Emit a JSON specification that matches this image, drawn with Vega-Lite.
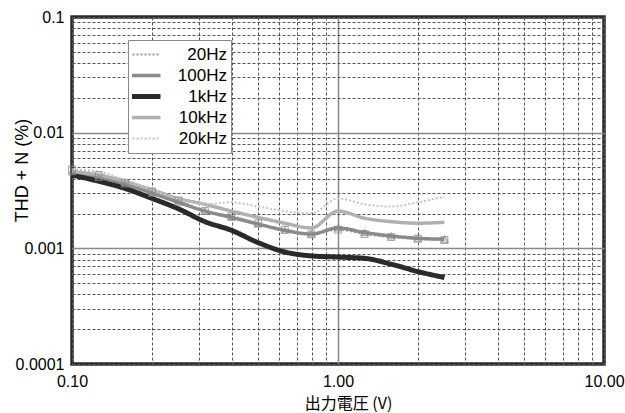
{
  "$schema": "https://vega.github.io/schema/vega-lite/v6.json",
  "width": 532,
  "height": 347,
  "autosize": {"type": "none"},
  "padding": {"left": 72, "top": 17, "right": 21, "bottom": 49},
  "background": "white",
  "config": {
    "view": {"stroke": "#2a2a2a", "strokeWidth": 3.5},
    "font": "Liberation Sans"
  },
  "data": {
    "values": [
      {"series": "20Hz", "v": 0.1, "thd": 0.0048},
      {"series": "20Hz", "v": 0.126, "thd": 0.0043},
      {"series": "20Hz", "v": 0.158, "thd": 0.0037},
      {"series": "20Hz", "v": 0.2, "thd": 0.0031},
      {"series": "20Hz", "v": 0.251, "thd": 0.0026},
      {"series": "20Hz", "v": 0.316, "thd": 0.0021},
      {"series": "20Hz", "v": 0.398, "thd": 0.0019},
      {"series": "20Hz", "v": 0.501, "thd": 0.00165},
      {"series": "20Hz", "v": 0.631, "thd": 0.00145},
      {"series": "20Hz", "v": 0.794, "thd": 0.00132},
      {"series": "20Hz", "v": 1.0, "thd": 0.00145},
      {"series": "20Hz", "v": 1.259, "thd": 0.00133},
      {"series": "20Hz", "v": 1.585, "thd": 0.00125},
      {"series": "20Hz", "v": 1.995, "thd": 0.00121},
      {"series": "20Hz", "v": 2.512, "thd": 0.00118},
      {"series": "100Hz", "v": 0.1, "thd": 0.0046},
      {"series": "100Hz", "v": 0.126, "thd": 0.0041},
      {"series": "100Hz", "v": 0.158, "thd": 0.0036},
      {"series": "100Hz", "v": 0.2, "thd": 0.003},
      {"series": "100Hz", "v": 0.251, "thd": 0.0025},
      {"series": "100Hz", "v": 0.316, "thd": 0.0021},
      {"series": "100Hz", "v": 0.398, "thd": 0.00185},
      {"series": "100Hz", "v": 0.501, "thd": 0.00162},
      {"series": "100Hz", "v": 0.631, "thd": 0.00143},
      {"series": "100Hz", "v": 0.794, "thd": 0.00133},
      {"series": "100Hz", "v": 1.0, "thd": 0.0015},
      {"series": "100Hz", "v": 1.259, "thd": 0.00137},
      {"series": "100Hz", "v": 1.585, "thd": 0.00128},
      {"series": "100Hz", "v": 1.995, "thd": 0.00122},
      {"series": "100Hz", "v": 2.512, "thd": 0.0012},
      {"series": "1kHz", "v": 0.1, "thd": 0.0043},
      {"series": "1kHz", "v": 0.126, "thd": 0.0038},
      {"series": "1kHz", "v": 0.158, "thd": 0.0033},
      {"series": "1kHz", "v": 0.2, "thd": 0.0027},
      {"series": "1kHz", "v": 0.251, "thd": 0.0022},
      {"series": "1kHz", "v": 0.316, "thd": 0.0017},
      {"series": "1kHz", "v": 0.398, "thd": 0.00143},
      {"series": "1kHz", "v": 0.501, "thd": 0.00112},
      {"series": "1kHz", "v": 0.631, "thd": 0.00093},
      {"series": "1kHz", "v": 0.794, "thd": 0.00086},
      {"series": "1kHz", "v": 1.0, "thd": 0.00084},
      {"series": "1kHz", "v": 1.259, "thd": 0.00082},
      {"series": "1kHz", "v": 1.585, "thd": 0.00073},
      {"series": "1kHz", "v": 1.995, "thd": 0.00063},
      {"series": "1kHz", "v": 2.512, "thd": 0.00056},
      {"series": "10kHz", "v": 0.1, "thd": 0.0046},
      {"series": "10kHz", "v": 0.126, "thd": 0.0043},
      {"series": "10kHz", "v": 0.158, "thd": 0.0038},
      {"series": "10kHz", "v": 0.2, "thd": 0.0032},
      {"series": "10kHz", "v": 0.251, "thd": 0.0027},
      {"series": "10kHz", "v": 0.316, "thd": 0.0024},
      {"series": "10kHz", "v": 0.398, "thd": 0.0021},
      {"series": "10kHz", "v": 0.501, "thd": 0.00185},
      {"series": "10kHz", "v": 0.631, "thd": 0.00165},
      {"series": "10kHz", "v": 0.794, "thd": 0.0015},
      {"series": "10kHz", "v": 1.0, "thd": 0.0021},
      {"series": "10kHz", "v": 1.259, "thd": 0.00182},
      {"series": "10kHz", "v": 1.585, "thd": 0.0017},
      {"series": "10kHz", "v": 1.995, "thd": 0.00165},
      {"series": "10kHz", "v": 2.512, "thd": 0.00168},
      {"series": "20kHz", "v": 0.1, "thd": 0.0048},
      {"series": "20kHz", "v": 0.126, "thd": 0.0046},
      {"series": "20kHz", "v": 0.158, "thd": 0.0039},
      {"series": "20kHz", "v": 0.2, "thd": 0.0032},
      {"series": "20kHz", "v": 0.251, "thd": 0.0027},
      {"series": "20kHz", "v": 0.316, "thd": 0.0024},
      {"series": "20kHz", "v": 0.398, "thd": 0.0025},
      {"series": "20kHz", "v": 0.501, "thd": 0.0023},
      {"series": "20kHz", "v": 0.631, "thd": 0.0021},
      {"series": "20kHz", "v": 0.794, "thd": 0.002},
      {"series": "20kHz", "v": 1.0, "thd": 0.0027},
      {"series": "20kHz", "v": 1.259, "thd": 0.0024},
      {"series": "20kHz", "v": 1.585, "thd": 0.0023},
      {"series": "20kHz", "v": 1.995, "thd": 0.0025},
      {"series": "20kHz", "v": 2.512, "thd": 0.0028}
    ]
  },
  "encoding": {
    "x": {
      "field": "v",
      "type": "quantitative",
      "scale": {"type": "log", "domain": [0.1, 10], "nice": false},
      "axis": {
        "values": [0.1, 0.2, 0.3, 0.4, 0.5, 0.6, 0.7, 0.8, 0.9, 1, 2, 3, 4, 5, 6, 7, 8, 9, 10],
        "labelExpr": "datum.value == 0.1 || datum.value == 1 || datum.value == 10 ? format(datum.value, '.2f') : ''",
        "labelFontSize": 16,
        "labelColor": "#000000",
        "labelFlush": false,
        "labelOverlap": false,
        "labelPadding": 9,
        "ticks": false,
        "domain": false,
        "grid": true,
        "gridColor": {"condition": {"test": "datum.value == 1", "value": "#888888"}, "value": "#555555"},
        "gridDash": {"condition": {"test": "datum.value == 1", "value": []}, "value": [3, 2]},
        "gridWidth": {"condition": {"test": "datum.value == 1", "value": 1.5}, "value": 1},
        "title": "出力電圧 (V)",
        "titleFont": "Noto Sans CJK JP",
        "titleFontSize": 16,
        "titleFontWeight": "normal",
        "titleColor": "#000000",
        "titleX": 276,
        "titleY": 39,
        "titleBaseline": "middle"
      }
    },
    "y": {
      "field": "thd",
      "type": "quantitative",
      "scale": {"type": "log", "domain": [0.0001, 0.1], "nice": false},
      "axis": {
        "values": [0.0001, 0.0002, 0.0003, 0.0004, 0.0005, 0.0006, 0.0007, 0.0008, 0.0009, 0.001, 0.002, 0.003, 0.004, 0.005, 0.006, 0.007, 0.008, 0.009, 0.01, 0.02, 0.03, 0.04, 0.05, 0.06, 0.07, 0.08, 0.09, 0.1],
        "labelExpr": "indexof([0.1, 0.01, 0.001, 0.0001], datum.value) >= 0 ? format(datum.value, '~g') : ''",
        "labelFontSize": 16,
        "labelColor": "#000000",
        "labelFlush": false,
        "labelOverlap": false,
        "labelPadding": 8,
        "ticks": false,
        "domain": false,
        "grid": true,
        "gridColor": {"condition": {"test": "datum.value == 0.001 || datum.value == 0.01", "value": "#888888"}, "value": "#555555"},
        "gridDash": {"condition": {"test": "datum.value == 0.001 || datum.value == 0.01", "value": []}, "value": [3, 2]},
        "gridWidth": {"condition": {"test": "datum.value == 0.001 || datum.value == 0.01", "value": 1.5}, "value": 1},
        "title": "THD + N (%)",
        "titleFontSize": 18,
        "titleFontWeight": "normal",
        "titleColor": "#000000",
        "titleAngle": 270,
        "titleX": -50,
        "titleY": 153,
        "titleAlign": "center",
        "titleBaseline": "middle"
      }
    }
  },
  "layer": [
    {
      "mark": {"type": "line", "interpolate": "monotone"},
      "encoding": {
        "color": {
          "field": "series",
          "type": "nominal",
          "scale": {"domain": ["20Hz", "100Hz", "1kHz", "10kHz", "20kHz"], "range": ["#9a9a9a", "#8a8a8a", "#2a2a2a", "#b0b0b0", "#c4c4c4"]},
          "legend": {
            "title": null,
            "orient": "none",
            "legendX": 56,
            "legendY": 23,
            "strokeColor": "#888888",
            "fillColor": "#ffffff",
            "padding": 4,
            "symbolType": "stroke",
            "symbolSize": 1600,
            "clipHeight": 21,
            "rowPadding": 0,
            "labelFontSize": 17,
            "labelColor": "#000000",
            "labelAlign": "right",
            "labelOffset": 78,
            "encode": {
              "symbols": {
                "update": {
                  "strokeWidth": {"signal": "datum.value == '1kHz' ? 5 : (datum.value == '100Hz' || datum.value == '10kHz') ? 3.5 : 2"}
                }
              }
            }
          }
        },
        "strokeWidth": {
          "condition": [
            {"test": "datum.series == '1kHz'", "value": 5},
            {"test": "datum.series == '100Hz' || datum.series == '10kHz'", "value": 3.5}
          ],
          "value": 2
        },
        "strokeDash": {
          "field": "series",
          "type": "nominal",
          "scale": {"domain": ["20Hz", "100Hz", "1kHz", "10kHz", "20kHz"], "range": [[2, 2], [1, 0], [1, 0], [1, 0], [2, 2]]}
        },
        "detail": {"field": "series"}
      }
    },
    {
      "transform": [{"filter": "datum.series == '20Hz' || datum.series == '100Hz'"}],
      "mark": {"type": "point", "filled": false, "stroke": "#888888", "strokeWidth": 1.2, "size": 45},
      "encoding": {
        "shape": {
          "field": "series",
          "type": "nominal",
          "scale": {"domain": ["20Hz", "100Hz"], "range": ["square", "triangle-up"]},
          "legend": null
        }
      }
    }
  ]
}
